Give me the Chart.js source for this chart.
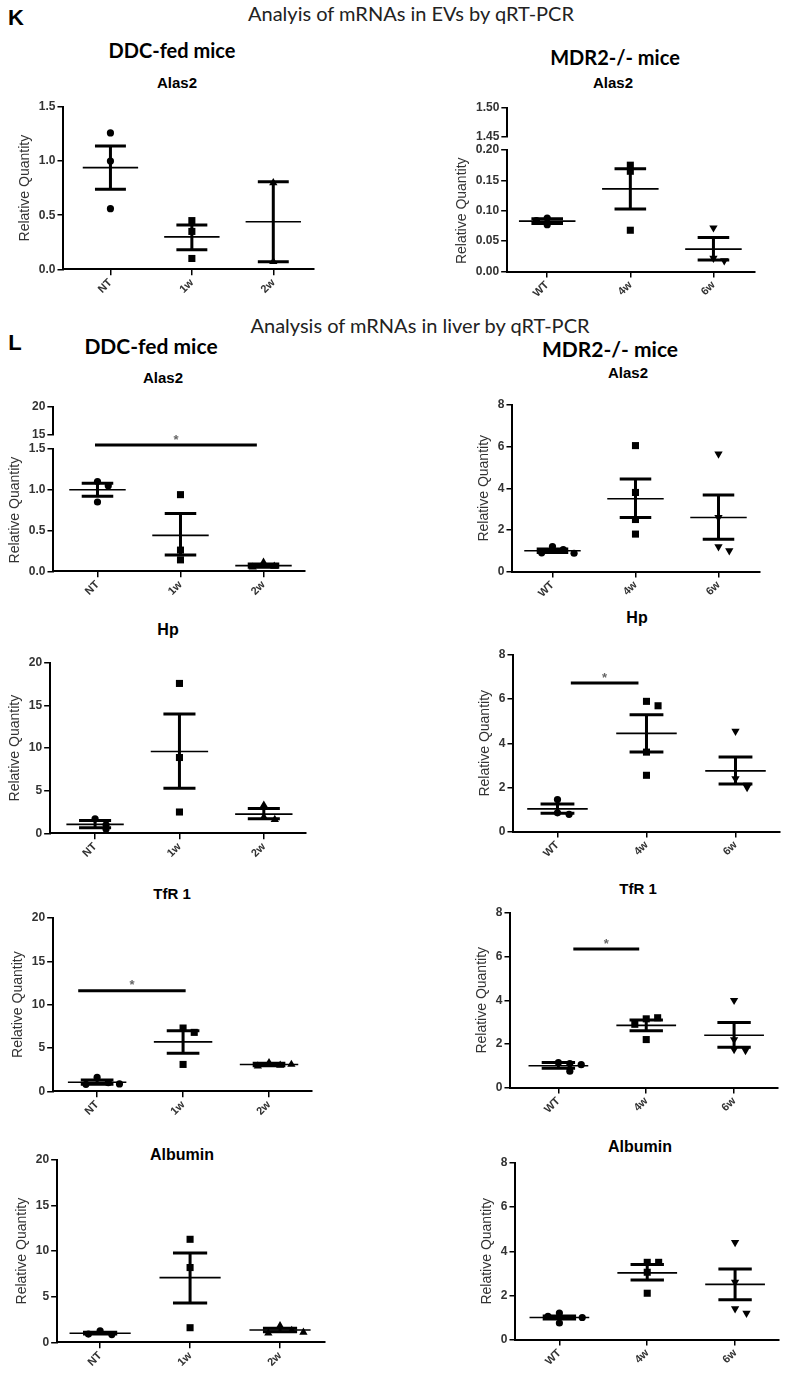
<!DOCTYPE html>
<html><head><meta charset="utf-8">
<script src="https://cdn.jsdelivr.net/npm/chart.js@4.4.0/dist/chart.umd.min.js"></script>
<style>
html,body{margin:0;padding:0;background:#fff;}
body{width:785px;height:1375px;position:relative;overflow:hidden;font-family:'Liberation Sans',Arial,sans-serif;}
.t{position:absolute;transform:translate(-50%,-50%);white-space:nowrap;color:#000;}
.hd{font-family:Lato,'Open Sans',sans-serif;font-size:20px;color:#222;}
.sec{font-family:Lato,'Open Sans',sans-serif;font-weight:bold;font-size:20px;}
.gene{font-family:'Liberation Sans',Arial,sans-serif;font-weight:bold;font-size:15px;}
.lt{font-family:'Liberation Sans',Arial,sans-serif;font-weight:bold;font-size:22px;}
canvas{position:absolute;}
</style></head><body>
<div class="t lt" style="left:16px;top:18px">K</div>
<div class="t hd" style="left:411px;top:13px">Analyis of mRNAs in EVs by qRT-PCR</div>
<div class="t sec" style="left:172px;top:50px">DDC-fed mice</div>
<div class="t sec" style="left:615px;top:57px">MDR2-/- mice</div>
<div class="t gene" style="left:177px;top:82px">Alas2</div>
<div class="t gene" style="left:613px;top:82px">Alas2</div>

<div class="t hd" style="left:420px;top:325px">Analysis of mRNAs in liver by qRT-PCR</div>
<div class="t lt" style="left:15px;top:343px">L</div>
<div class="t sec" style="left:151px;top:345px;font-size:21px">DDC-fed mice</div>
<div class="t sec" style="left:610px;top:348px;font-size:21px">MDR2-/- mice</div>
<div class="t gene" style="left:163px;top:377px">Alas2</div>
<div class="t gene" style="left:628px;top:372px">Alas2</div>
<div class="t gene" style="left:168px;top:630px;font-size:16px">Hp</div>
<div class="t gene" style="left:637px;top:618px;font-size:16px">Hp</div>
<div class="t gene" style="left:172px;top:893px">TfR 1</div>
<div class="t gene" style="left:638px;top:888px">TfR 1</div>
<div class="t gene" style="left:182px;top:1155px;font-size:16px">Albumin</div>
<div class="t gene" style="left:640px;top:1147px;font-size:16px">Albumin</div>

<script>
// ---------- categories ----------
const ddcGroups = ['NT', '1w', '2w'];
const mdrGroups = ['WT', '4w', '6w'];

// ---------- K: EVs, DDC-fed, Alas2 ----------
const evDdcAlas2Points = [[1.26, 1.00, 0.56], [0.45, 0.35, 0.10], [0.80, 0.07]];
const evDdcAlas2Mean = [0.94, 0.30, 0.44];
const evDdcAlas2SemHi = [1.14, 0.41, 0.81];
const evDdcAlas2SemLo = [0.74, 0.18, 0.07];
const evDdcAlas2Ticks = [0, 0.5, 1.0, 1.5];

// ---------- K: EVs, MDR2-/-, Alas2 ----------
const evMdrAlas2Points = [[0.088, 0.077, 0.084], [0.175, 0.165, 0.068], [0.072, 0.022, 0.018]];
const evMdrAlas2Mean = [0.083, 0.136, 0.037];
const evMdrAlas2SemHi = [0.087, 0.169, 0.056];
const evMdrAlas2SemLo = [0.079, 0.103, 0.019];
const evMdrAlas2Ticks = [0, 0.05, 0.10, 0.15, 0.20];
const evMdrAlas2BreakTicks = [1.45, 1.50];

// ---------- L: liver, DDC-fed, Alas2 ----------
const liverDdcAlas2Points = [[1.10, 1.05, 0.85], [0.94, 0.26, 0.14], [0.11, 0.06, 0.05]];
const liverDdcAlas2Mean = [1.00, 0.44, 0.07];
const liverDdcAlas2SemHi = [1.08, 0.71, 0.09];
const liverDdcAlas2SemLo = [0.92, 0.20, 0.05];
const liverDdcAlas2Ticks = [0, 0.5, 1.0, 1.5];
const liverDdcAlas2BreakTicks = [15, 20];
const liverDdcAlas2Sig = [[-0.03, 1.92, 1.55]];

// ---------- L: liver, MDR2-/-, Alas2 ----------
const liverMdrAlas2Points = [[1.2, 1.05, 0.9, 0.88], [6.05, 3.8, 2.5, 1.8], [5.65, 2.6, 1.2, 1.0]];
const liverMdrAlas2Mean = [1.0, 3.5, 2.6];
const liverMdrAlas2SemHi = [1.08, 4.45, 3.68];
const liverMdrAlas2SemLo = [0.92, 2.6, 1.55];

// ---------- Hp ----------
const hpDdcPoints = [[1.7, 1.0, 0.5], [17.6, 8.9, 2.5], [3.3, 1.9, 1.6]];
const hpDdcMean = [1.05, 9.6, 2.25];
const hpDdcSemHi = [1.5, 14.0, 2.9];
const hpDdcSemLo = [0.65, 5.3, 1.7];

const hpMdrPoints = [[1.45, 0.85, 0.78], [5.9, 5.7, 3.6, 2.55], [4.55, 2.4, 2.1, 2.0]];
const hpMdrMean = [1.03, 4.45, 2.75];
const hpMdrSemHi = [1.25, 5.29, 3.38];
const hpMdrSemLo = [0.83, 3.6, 2.15];
const hpMdrSig = [[0.15, 0.91, 6.73]];

// ---------- TfR1 ----------
const tfrDdcPoints = [[1.6, 1.0, 0.8, 0.85], [7.3, 6.8, 3.1], [3.3, 3.0, 2.9, 3.1]];
const tfrDdcMean = [1.05, 5.7, 3.1];
const tfrDdcSemHi = [1.3, 7.0, 3.25];
const tfrDdcSemLo = [0.8, 4.4, 2.95];
const tfrDdcSig = [[-0.22, 1.03, 11.6]];

const tfrMdrPoints = [[1.15, 1.1, 0.75, 1.05], [3.15, 3.2, 2.9, 2.2], [4.0, 2.2, 1.75, 1.7]];
const tfrMdrMean = [1.0, 2.85, 2.4];
const tfrMdrSemHi = [1.15, 3.1, 2.98];
const tfrMdrSemLo = [0.88, 2.6, 1.85];
const tfrMdrSig = [[0.17, 0.92, 6.35]];

// ---------- Albumin ----------
const albDdcPoints = [[1.25, 0.85, 0.9], [11.3, 8.2, 1.6], [1.8, 1.3, 1.0, 1.1]];
const albDdcMean = [1.0, 7.1, 1.35];
const albDdcSemHi = [1.1, 9.8, 1.55];
const albDdcSemLo = [0.9, 4.3, 1.15];

const albMdrPoints = [[1.2, 0.75, 1.05, 1.0], [3.5, 3.5, 3.05, 2.1], [4.4, 2.6, 1.4, 1.2]];
const albMdrMean = [1.0, 3.02, 2.5];
const albMdrSemHi = [1.07, 3.4, 3.2];
const albMdrSemLo = [0.93, 2.7, 1.8];

const ticks20 = [0, 5, 10, 15, 20];
const ticks8 = [0, 2, 4, 6, 8];

// ---------- panel layout (pixel placement only) ----------
const panels = [
  {groups: ddcGroups, pts: evDdcAlas2Points, mean: evDdcAlas2Mean, hi: evDdcAlas2SemHi, lo: evDdcAlas2SemLo,
   ticks: evDdcAlas2Ticks, dec: 1, sig: [], tri: 'up', axisLeft: 63, c0: 110, sp: 81.5, top: 107, bottom: 269},
  {groups: mdrGroups, pts: evMdrAlas2Points, mean: evMdrAlas2Mean, hi: evMdrAlas2SemHi, lo: evMdrAlas2SemLo,
   ticks: evMdrAlas2Ticks, dec: 2, sig: [], tri: 'down', axisLeft: 507, c0: 547, sp: 83, top: 150, bottom: 272,
   brk: {ticks: evMdrAlas2BreakTicks, dec: 2, top: 108, bottom: 137}},
  {groups: ddcGroups, pts: liverDdcAlas2Points, mean: liverDdcAlas2Mean, hi: liverDdcAlas2SemHi, lo: liverDdcAlas2SemLo,
   ticks: liverDdcAlas2Ticks, dec: 1, sig: liverDdcAlas2Sig, tri: 'up', axisLeft: 53, c0: 97, sp: 83, top: 449, bottom: 571,
   brk: {ticks: liverDdcAlas2BreakTicks, dec: 0, top: 407, bottom: 435}},
  {groups: mdrGroups, pts: liverMdrAlas2Points, mean: liverMdrAlas2Mean, hi: liverMdrAlas2SemHi, lo: liverMdrAlas2SemLo,
   ticks: ticks8, dec: 0, sig: [], tri: 'down', axisLeft: 512, c0: 552, sp: 83, top: 405, bottom: 572},
  {groups: ddcGroups, pts: hpDdcPoints, mean: hpDdcMean, hi: hpDdcSemHi, lo: hpDdcSemLo,
   ticks: ticks20, dec: 0, sig: [], tri: 'up', axisLeft: 50, c0: 95, sp: 84.5, top: 663, bottom: 833},
  {groups: mdrGroups, pts: hpMdrPoints, mean: hpMdrMean, hi: hpMdrSemHi, lo: hpMdrSemLo,
   ticks: ticks8, dec: 0, sig: hpMdrSig, tri: 'down', axisLeft: 513, c0: 557, sp: 89, top: 655, bottom: 832},
  {groups: ddcGroups, pts: tfrDdcPoints, mean: tfrDdcMean, hi: tfrDdcSemHi, lo: tfrDdcSemLo,
   ticks: ticks20, dec: 0, sig: tfrDdcSig, tri: 'up', axisLeft: 53, c0: 97, sp: 86, top: 918, bottom: 1091},
  {groups: mdrGroups, pts: tfrMdrPoints, mean: tfrMdrMean, hi: tfrMdrSemHi, lo: tfrMdrSemLo,
   ticks: ticks8, dec: 0, sig: tfrMdrSig, tri: 'down', axisLeft: 510, c0: 558, sp: 88, top: 913, bottom: 1088},
  {groups: ddcGroups, pts: albDdcPoints, mean: albDdcMean, hi: albDdcSemHi, lo: albDdcSemLo,
   ticks: ticks20, dec: 0, sig: [], tri: 'up', axisLeft: 57, c0: 100, sp: 90, top: 1160, bottom: 1342},
  {groups: mdrGroups, pts: albMdrPoints, mean: albMdrMean, hi: albMdrSemHi, lo: albMdrSemLo,
   ticks: ticks8, dec: 0, sig: [], tri: 'down', axisLeft: 515, c0: 559, sp: 88, top: 1163, bottom: 1340}
];

const FAM = "'Liberation Sans', Arial, sans-serif";
const X_MAX = 2.5;

const starPlugin = {
  id: 'star',
  afterDatasetsDraw(chart, args, opts) {
    const sig = opts.sig || [];
    const {ctx, scales} = chart;
    ctx.save();
    ctx.fillStyle = '#666';
    ctx.font = 'bold 13px ' + FAM;
    ctx.textAlign = 'center';
    ctx.textBaseline = 'middle';
    sig.forEach(s => {
      const x = scales.x.getPixelForValue((s[0] + s[1]) / 2);
      const y = scales.y.getPixelForValue(s[2]);
      ctx.fillText('*', x, y - 5);
    });
    ctx.restore();
  }
};

function buildConfig(p, upper) {
  const xMin = -(p.c0 - p.axisLeft) / p.sp;
  const tks = upper ? p.brk.ticks : p.ticks;
  const dec = upper ? p.brk.dec : p.dec;
  const yMin = tks[0], yMax = tks[tks.length - 1];
  const datasets = [];
  if (!upper) {
    const thr = 0.045 * (yMax - yMin);
    const offs = [0, 0.13, -0.13, 0.26, -0.26];
    p.pts.forEach((vals, g) => {
      const data = vals.map((v, i) => {
        let k = 0;
        for (let j = 0; j < i; j++) if (Math.abs(vals[j] - v) < thr) k++;
        return {x: g + offs[k], y: v};
      });
      datasets.push({
        type: 'line', showLine: false, data,
        pointStyle: g === 0 ? 'circle' : (g === 1 ? 'rect' : 'triangle'),
        pointRotation: (g === 2 && p.tri === 'down') ? 180 : 0,
        pointRadius: g === 0 ? 3.6 : (g === 1 ? 5 : 4.8),
        pointBackgroundColor: '#000', pointBorderColor: '#000', pointBorderWidth: 0,
        clip: false
      });
    });
    const meanData = [];
    p.mean.forEach((m, g) => {
      meanData.push({x: g - 0.34, y: m}, {x: g + 0.34, y: m}, {x: g, y: null});
    });
    const semData = [];
    p.hi.forEach((h, g) => {
      const l = p.lo[g];
      semData.push({x: g - 0.19, y: h}, {x: g + 0.19, y: h}, {x: g, y: null},
                   {x: g, y: h}, {x: g, y: l}, {x: g, y: null},
                   {x: g - 0.19, y: l}, {x: g + 0.19, y: l}, {x: g, y: null});
    });
    const sigData = [];
    p.sig.forEach(s => { sigData.push({x: s[0], y: s[2]}, {x: s[1], y: s[2]}, {x: s[1], y: null}); });
    datasets.push({type: 'line', data: meanData, borderColor: '#000', borderWidth: 1.6, pointRadius: 0, spanGaps: false, clip: false, borderCapStyle: 'butt'});
    datasets.push({type: 'line', data: semData, borderColor: '#000', borderWidth: 3, pointRadius: 0, spanGaps: false, clip: false, borderCapStyle: 'butt'});
    if (sigData.length) datasets.push({type: 'line', data: sigData, borderColor: '#000', borderWidth: 3, pointRadius: 0, spanGaps: false, clip: false});
  }
  return {
    type: 'line',
    data: {datasets},
    plugins: [starPlugin],
    options: {
      responsive: false, maintainAspectRatio: false, animation: false, devicePixelRatio: 1,
      layout: {padding: {top: 16, right: 4, bottom: 2, left: 2}},
      plugins: {legend: {display: false}, tooltip: {enabled: false}, star: {sig: upper ? [] : p.sig}},
      scales: {
        x: {
          type: 'linear', min: xMin, max: X_MAX, display: !upper,
          afterBuildTicks: s => { s.ticks = p.groups.map((_, i) => ({value: i})); },
          ticks: {
            callback: v => (p.groups[v] !== undefined ? p.groups[v] : ''),
            minRotation: 45, maxRotation: 45, autoSkip: false, padding: 1,
            font: {family: FAM, weight: 'bold', size: 11}, color: '#333'
          },
          grid: {display: true, drawOnChartArea: false, drawTicks: true, tickLength: 6, color: '#000', lineWidth: 1.5},
          border: {display: true, color: '#000', width: 2}
        },
        y: {
          type: 'linear', min: yMin, max: yMax,
          afterBuildTicks: s => { s.ticks = tks.map(v => ({value: v})); },
          ticks: {
            callback: v => Number(v).toFixed(dec), padding: 2,
            font: {family: FAM, weight: 'bold', size: 12}, color: '#333'
          },
          grid: {display: true, drawOnChartArea: false, drawTicks: true, tickLength: 6, color: '#000', lineWidth: 1.5},
          border: {display: true, color: '#000', width: 2},
          title: {display: !upper, text: 'Relative Quantity', font: {family: FAM, size: 14}, color: '#333', padding: {top: 0, bottom: 3}}
        }
      }
    }
  };
}

function place(cfgFn, target) {
  const tw = target.right - target.left, th = target.bottom - target.top;
  let W = Math.round(tw + 90), H = Math.round(th + 70);
  for (let iter = 0; iter < 4; iter++) {
    const c = document.createElement('canvas');
    c.width = W; c.height = H;
    c.style.width = W + 'px'; c.style.height = H + 'px';
    document.body.appendChild(c);
    const ch = new Chart(c, cfgFn());
    const a = ch.chartArea;
    const dw = tw - (a.right - a.left), dh = th - (a.bottom - a.top);
    if ((Math.abs(dw) < 0.6 && Math.abs(dh) < 0.6) || iter === 3) {
      c.style.left = Math.round(target.left - a.left) + 'px';
      c.style.top = Math.round(target.top - a.top) + 'px';
      return ch;
    }
    ch.destroy(); c.remove();
    W = Math.round(W + dw); H = Math.round(H + dh);
  }
}

panels.forEach(p => {
  const xMin = -(p.c0 - p.axisLeft) / p.sp;
  const right = p.axisLeft + (X_MAX - xMin) * p.sp;
  place(() => buildConfig(p, false), {left: p.axisLeft, right, top: p.top, bottom: p.bottom});
  if (p.brk) {
    place(() => buildConfig(p, true), {left: p.axisLeft, right, top: p.brk.top, bottom: p.brk.bottom});
  }
});
</script>
</body></html>
